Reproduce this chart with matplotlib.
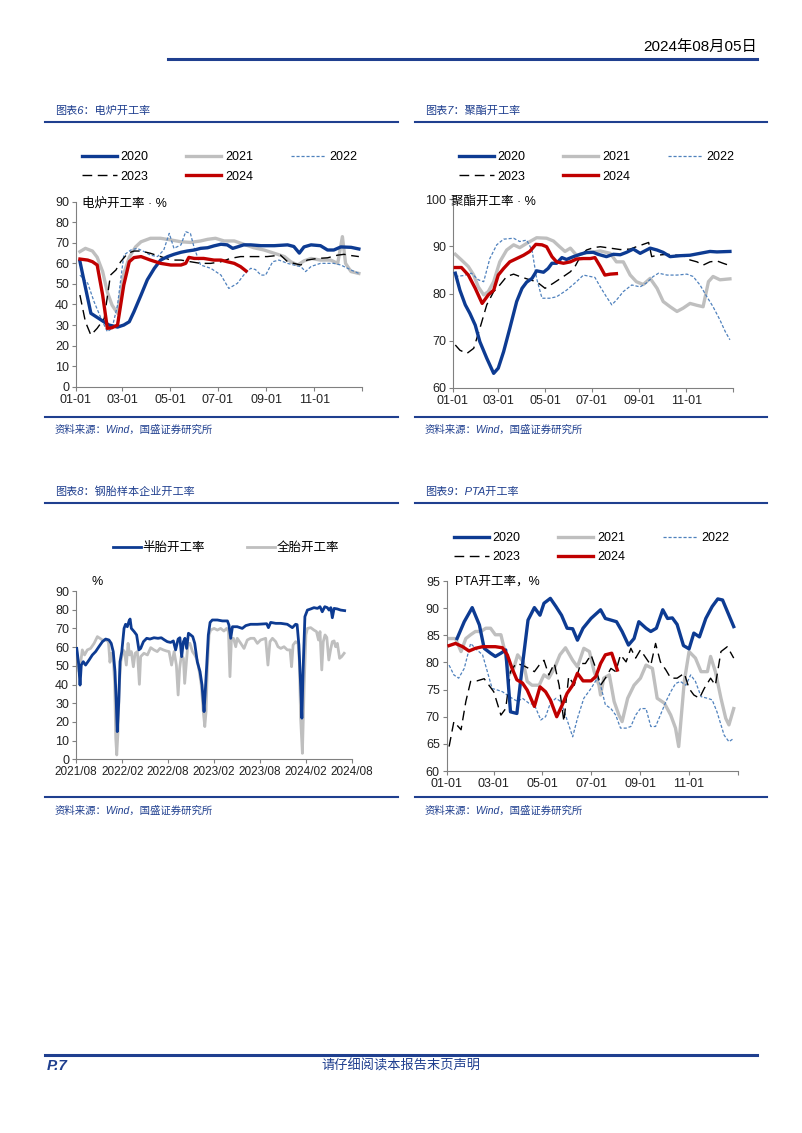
import numpy as np
import pandas as pd
import matplotlib.pyplot as plt
from matplotlib.lines import Line2D

plt.rcParams['font.family'] = ['Liberation Sans', 'Noto Sans CJK SC', 'DejaVu Sans']
plt.rcParams['axes.unicode_minus'] = False

# ---------------- data ----------------
years = ['2020', '2021', '2022', '2023', '2024']

# 电炉开工率 (day of year, %)
furnace_2020_day = [5, 19, 42, 53, 61, 68, 74, 83, 91, 100, 108, 117, 125, 134, 142, 151, 159, 168, 176, 185,
                    193, 200, 206, 214, 223, 236, 253, 270, 278, 285, 291, 300, 312, 321, 329, 338, 351, 361]
furnace_2020 = [61, 35.7, 30, 29, 30, 31.6, 36.5, 44.6, 52, 57.6, 61.6, 63.3, 64.4, 65.4, 66, 66.5, 67.3, 67.6, 68.5, 69.3,
                69, 67.3, 68, 69, 69, 68.6, 68.6, 69, 68.2, 65, 68, 69, 68.6, 66.5, 66.5, 68, 67.8, 67]
furnace_2021_day = [5, 12, 21, 27, 34, 40, 46, 53, 61, 68, 76, 83, 95, 108, 121, 134, 146, 159, 168, 178,
                    189, 202, 214, 227, 240, 253, 266, 274, 283, 291, 300, 312, 325, 334, 340, 344, 351, 361]
furnace_2021 = [65.7, 67.3, 66, 63, 56, 46, 39.7, 35.7, 55, 63, 68, 70.5, 72.2, 72.2, 71.4, 70.5, 70.2, 70.9, 71.7, 72.2,
                70.9, 70.9, 69.3, 67.6, 66.5, 64.9, 63.3, 60.8, 59.2, 61.2, 62.4, 61.6, 61.6, 60, 73, 60, 56, 55.1]
furnace_2022_day = [5, 15, 23, 32, 40, 46, 53, 61, 70, 78, 87, 95, 104, 112, 119, 125, 134, 140, 146, 151,
                    159, 172, 185, 195, 206, 214, 223, 229, 236, 242, 251, 259, 270, 278, 287, 293, 300, 312, 329, 338, 351, 361]
furnace_2022 = [54.3, 50.3, 41.4, 33.2, 26.8, 28.4, 39.7, 64, 66.5, 67.3, 65.7, 64, 63.3, 66.5, 74.6, 67.3, 69, 75.4, 74.6, 67.3,
                59.2, 57.6, 54.3, 47.8, 50.3, 54.3, 57.6, 57, 54.3, 54.3, 60.8, 61.6, 60, 59.2, 58.4, 56, 58.5, 60, 60, 59.2, 56.8, 55.1]
furnace_2023_day = [5, 12, 19, 27, 36, 44, 51, 57, 66, 74, 83, 95, 108, 121, 134, 146, 159, 172, 185, 197,
                    210, 227, 244, 261, 270, 278, 287, 295, 308, 321, 334, 342, 351, 361]
furnace_2023 = [44.6, 31.6, 25.1, 28.4, 33.2, 54.3, 56.8, 60.8, 64.9, 66, 66, 64.9, 63.3, 61.6, 61.6, 60.8, 60, 60, 60.8, 62.4,
                63.3, 63.3, 63.3, 64, 60.8, 60, 59.2, 61.6, 62.4, 62.7, 64, 64.4, 63.8, 63.3]
furnace_2024_day = [5, 15, 21, 27, 34, 40, 46, 53, 61, 68, 74, 83, 95, 108, 121, 134, 140, 144, 151, 163,
                    176, 185, 193, 202, 210, 217]
furnace_2024 = [62.1, 61.6, 60.8, 59.2, 44.6, 28.4, 28.7, 30, 49.5, 60.8, 62.8, 63.3, 61.6, 60, 59.2, 59.2, 60, 62.9, 62.4, 62.4,
                61.6, 61.6, 60.8, 60, 58.4, 56.3]

# 聚酯开工率
poly_2020_day = [3, 9, 16, 22, 29, 35, 44, 53, 59, 66, 74, 83, 90, 96, 103, 109, 118, 124, 129, 135,
                 142, 148, 157, 166, 174, 183, 189, 200, 209, 218, 226, 235, 244, 257, 266, 274, 283, 296, 309, 322, 335, 344, 361]
poly_2020 = [84.3, 80.7, 77.6, 75.8, 73.3, 69.8, 66.3, 63.1, 64.2, 67.7, 72.6, 78.3, 81.1, 82.4, 83.2, 84.8, 84.5, 85.3, 86.4, 86.4,
             87.6, 87.2, 87.8, 88.3, 88.7, 88.7, 88.3, 87.8, 88.3, 88.2, 88.7, 89.4, 88.5, 89.6, 89.2, 88.7, 87.8, 88, 88.1, 88.5,
             88.9, 88.8, 88.9]
poly_2021_day = [3, 11, 20, 27, 33, 40, 46, 53, 61, 70, 79, 87, 96, 109, 122, 131, 139, 146, 153, 161,
                 170, 179, 192, 205, 213, 222, 231, 239, 248, 257, 266, 274, 283, 292, 300, 309, 318, 326, 333, 339, 348, 361]
poly_2021 = [88.3, 87.1, 85.7, 83.9, 81.4, 79.7, 80.4, 82.5, 86.7, 89.2, 90.3, 89.7, 90.6, 91.8, 91.7, 91.1, 89.9, 88.9, 89.6, 88.1,
             88.5, 88.7, 89, 88.5, 86.7, 86.7, 83.9, 82.5, 81.9, 83.2, 81.1, 78.3, 77.2, 76.2, 76.9, 77.9, 77.5, 77.2, 82.5, 83.6,
             82.9, 83.1]
poly_2022_day = [3, 14, 24, 33, 40, 48, 57, 66, 79, 87, 96, 103, 109, 116, 126, 135, 148, 161, 170, 179,
                 185, 192, 200, 207, 213, 222, 233, 244, 252, 261, 268, 279, 292, 305, 313, 322, 331, 339, 348, 355, 361]
poly_2022 = [83.6, 83.8, 84.3, 82.9, 82.5, 87.4, 90.3, 91.5, 91.7, 91, 91.3, 89.2, 83.2, 79, 79, 79.3, 80.7, 82.5, 83.9, 83.6,
             83.4, 81.4, 79.3, 77.6, 78.6, 80.4, 81.8, 81.4, 82.2, 83.6, 84.3, 83.9, 83.9, 84.1, 83.6, 81.8, 79.3, 77.2, 74.4, 71.9,
             70.2]
poly_2023_day = [3, 9, 18, 27, 35, 44, 53, 61, 70, 79, 87, 100, 109, 120, 131, 144, 153, 159, 166, 174,
                 183, 192, 205, 218, 231, 239, 248, 255, 259, 266, 279, 292, 300, 309, 318, 326, 335, 344, 352, 361]
poly_2023 = [69.1, 68, 67.3, 68.4, 72.6, 77.6, 80.4, 81.8, 83.6, 84.1, 83.6, 82.9, 82.5, 81.1, 82.2, 83.6, 84.6, 85.7, 87.8, 89.2,
             89.7, 89.9, 89.6, 89.3, 89.4, 89.9, 90.4, 90.8, 87.8, 88.1, 88.3, 88.1, 88, 87.1, 86.7, 86, 86.7, 86.9, 86.4, 85.9]
poly_2024_day = [3, 11, 20, 29, 38, 46, 53, 59, 66, 74, 83, 92, 100, 108, 116, 122, 129, 135, 144, 153,
                 161, 170, 179, 185, 192, 198, 205, 213]
poly_2024 = [85.5, 85.5, 83.9, 81.1, 77.9, 79.7, 80.7, 83.9, 85.3, 86.7, 87.4, 88.1, 88.9, 90.4, 90.3, 89.9, 87.8, 86.7, 86.4, 86.7,
             87.3, 87.4, 87.4, 87.6, 85.7, 83.9, 84.1, 84.2]

# 钢胎样本企业开工率 (days since 2021-08-01, %)
semi_day = [3, 11, 16, 21, 29, 38, 52, 65, 78, 91, 105, 118, 131, 140, 148, 155, 160, 164, 170, 175,
            182, 191, 197, 204, 211, 215, 220, 231, 241, 250, 257, 268, 281, 294, 310, 326, 339, 352, 363, 376,
            387, 396, 406, 413, 420, 427, 433, 440, 447, 456, 464, 472, 482, 493, 501, 509, 513, 519, 526, 533,
            542, 562, 582, 602, 608, 615, 622, 641, 661, 675, 694, 721, 758, 765, 774, 794, 814, 840, 860, 873,
            879, 886, 893, 898, 903, 910, 920, 933, 946, 960, 970, 979, 989, 999, 1006, 1013, 1019, 1026, 1039, 1052,
            1068]
semi_rate = [59.3, 50.4, 39.7, 50.4, 52.2, 50.4, 53.1, 55.8, 57.6, 60.2, 62.9, 64.3, 63.8, 62, 57.6, 46.9, 30.8, 14.8, 30.8, 52.2,
             57.6, 70, 72.2, 70.9, 74, 75, 70, 68.3, 66.5, 58.5, 59.3, 62.9, 64.7, 64.3, 65, 64.7, 65, 63.8, 62.9, 62.5,
             63.3, 58.5, 64.3, 65, 54.9, 62.9, 64.7, 59.3, 67.4, 66.5, 65.6, 62, 52.2, 46.9, 39.7, 25.5, 34.4, 48.6, 66.5, 73.2,
             74.5, 74.5, 74, 74, 71.8, 64.7, 70.9, 70.9, 70, 71.5, 72.2, 72.2, 72.5, 70.4, 73.2, 72.7, 72.7, 72.2, 70.4, 72.2,
             72, 61.1, 39.7, 22, 48.6, 76.3, 79.8, 80.4, 81.1, 80.7, 81.6, 78.9, 81.6, 81.1, 79.8, 81.1, 75.7, 80.7, 80.4, 79.8,
             79.5]
full_day = [3, 12, 19, 25, 34, 45, 58, 72, 85, 95, 105, 118, 129, 135, 140, 148, 154, 158, 162, 167,
            172, 178, 187, 193, 200, 207, 213, 220, 228, 235, 244, 252, 257, 270, 284, 297, 310, 323, 334, 347,
            360, 370, 380, 390, 399, 406, 412, 419, 427, 432, 439, 445, 453, 463, 472, 482, 490, 498, 506, 512,
            517, 522, 529, 535, 549, 562, 575, 588, 599, 606, 612, 618, 626, 635, 641, 655, 668, 681, 694, 708,
            721, 734, 754, 763, 771, 781, 794, 803, 814, 827, 840, 851, 857, 863, 873, 883, 888, 893, 900, 907,
            914, 920, 933, 946, 956, 964, 970, 977, 983, 990, 997, 1005, 1013, 1019, 1026, 1032, 1039, 1048, 1056, 1066]
full_rate = [57.6, 46.9, 52.2, 58.5, 55.8, 58.5, 59.3, 62, 65.6, 64.7, 63.8, 63.8, 62.9, 51.9, 56.7, 54, 39.7, 11.2, 2.3, 14.8,
             39.7, 52.2, 58.5, 57.6, 50.4, 62, 55.8, 57.6, 49.5, 56.7, 57.6, 40.1, 54.9, 56.7, 55.8, 59.7, 58.5, 57.6, 59.3, 58.5,
             57.9, 57.6, 50.4, 57.6, 50.4, 34.4, 48.6, 55.8, 54, 40.6, 52.2, 62, 62, 57.6, 55.8, 53.1, 46.9, 39.7, 25.5, 17.5,
             25.5, 48.6, 66.5, 69.1, 70, 69.1, 70, 68.6, 70, 68.3, 44.2, 64.7, 64.7, 60.2, 64.7, 62, 59.3, 63.8, 64.7, 64.7,
             62, 63.8, 64.7, 50.4, 62.9, 64.7, 62.9, 60.2, 59.3, 60.2, 58.5, 58.5, 49.5, 61.1, 62.9, 62, 52.2, 21.9, 3.2, 39.7,
             66.5, 70, 70.4, 69.1, 68.3, 63.8, 68.3, 47.8, 62.9, 66.5, 65.2, 53.1, 59.3, 62.9, 63.3, 60.2, 62, 54, 54.9, 56.7]

# PTA开工率
pta_2020_day = [13, 22, 32, 41, 47, 55, 61, 68, 74, 80, 88, 95, 102, 110, 117, 122, 130, 137, 144, 151,
                158, 164, 171, 181, 193, 199, 206, 213, 220, 228, 235, 241, 250, 256, 263, 271, 277, 283, 289, 297,
                304, 310, 317, 325, 333, 340, 346, 352, 360]
pta_2020 = [84.4, 87.5, 90.1, 86.9, 82.6, 81.7, 81.1, 81.7, 82.3, 70.9, 70.6, 79.5, 87.8, 90.1, 88.7, 90.9, 91.8, 90.3, 88.7, 86.3,
            86.2, 84.1, 86.3, 88.1, 89.7, 88.1, 87.8, 87.5, 85.7, 83.2, 84.4, 87.5, 86.3, 85.7, 86.3, 89.7, 88.1, 88.2, 87, 83.1,
            82.5, 85.4, 84.7, 88.1, 90.3, 91.7, 91.5, 89.4, 86.6]
pta_2021_day = [3, 11, 18, 24, 30, 36, 43, 49, 55, 61, 68, 74, 78, 84, 89, 96, 101, 107, 116, 122,
                128, 135, 142, 149, 158, 164, 172, 179, 185, 191, 193, 197, 204, 210, 216, 220, 227, 235, 243, 250,
                258, 264, 273, 281, 287, 291, 298, 304, 312, 319, 327, 331, 337, 344, 350, 354, 360]
pta_2021 = [84.4, 84.4, 82, 84.4, 85.1, 85.7, 85.7, 86.3, 86.3, 85.1, 85.1, 81.4, 77.7, 78.9, 81.4, 80.1, 76.5, 75.8, 75.8, 77.7,
            77.1, 78.9, 81.4, 82.7, 80.4, 79.2, 82.6, 82, 78.3, 75.8, 74, 77.1, 77.7, 72.8, 70.3, 69.1, 73.4, 75.8, 77.1, 79.5,
            78.9, 73.4, 72.5, 70.3, 67.9, 64.5, 76.5, 82, 80.8, 78.3, 78.3, 81.1, 78.3, 73.4, 69.7, 68.5, 71.5]
pta_2022_day = [3, 9, 15, 22, 30, 38, 45, 51, 57, 64, 70, 76, 82, 89, 95, 103, 110, 118, 124, 130,
                137, 143, 149, 158, 164, 172, 181, 189, 193, 199, 206, 212, 218, 225, 231, 237, 243, 250, 256, 262,
                268, 275, 281, 287, 293, 300, 306, 312, 319, 327, 333, 339, 348, 354, 360]
pta_2022 = [79.5, 77.7, 77.1, 78.9, 83.5, 82.3, 81.4, 78.3, 75.2, 74.9, 74.6, 74, 73.4, 72.8, 73.4, 72.5, 72.2, 69.4, 70, 72.5,
            73.4, 72.8, 70.3, 66.3, 69.7, 73.4, 75.2, 77.1, 75.8, 72.2, 71.5, 70.3, 67.9, 67.9, 68.2, 70.3, 71.5, 71.5, 68.2, 68.2,
            70.3, 72.8, 74.6, 76.1, 76.5, 75.8, 77.7, 76.5, 73.7, 73.4, 73.1, 70.9, 66.6, 65.4, 66]
pta_2023_day = [3, 9, 18, 24, 30, 38, 47, 53, 59, 68, 74, 80, 87, 95, 103, 110, 116, 122, 128, 135,
                141, 147, 153, 160, 168, 174, 181, 187, 193, 199, 206, 212, 218, 225, 231, 237, 243, 250, 256, 262,
                268, 275, 281, 289, 298, 304, 310, 317, 323, 331, 337, 344, 352, 360]
pta_2023 = [64.5, 69.1, 67.6, 72.8, 76.5, 76.6, 77, 75.8, 74.6, 70.3, 71.5, 78.3, 79.8, 79.5, 78.9, 78.3, 79.5, 80.4, 77.7, 79.8,
            75.8, 69.1, 77.4, 75.8, 79.8, 79.8, 81.4, 78.9, 75.8, 77.1, 78.9, 78.3, 81.4, 80.1, 82.6, 80.8, 82.3, 80.8, 79.5, 83.5,
            80.1, 78.6, 77.1, 77.1, 78, 75.2, 74, 73.4, 75.2, 77.1, 75.8, 82, 82.9, 80.8]
pta_2024_day = [3, 11, 20, 28, 36, 45, 53, 61, 70, 76, 82, 88, 95, 101, 110, 117, 124, 130, 138, 145,
                151, 158, 164, 171, 181, 187, 193, 199, 207, 214]
pta_2024 = [83.1, 83.5, 82.9, 82.1, 82.6, 82.9, 82.9, 82.9, 82.7, 81.4, 78.9, 76.8, 76.2, 74.9, 71.9, 75.5, 74.6, 73.1, 70, 72.2,
            74.3, 75.8, 78, 76.6, 76.6, 77.4, 79.8, 81.4, 81.7, 78.6]

month_ticks = [0, 59, 120, 181, 243, 304, 365]
month_labels = ['01-01', '03-01', '05-01', '07-01', '09-01', '11-01', '']

# ---------------- style ----------------
BLUE = '#0d3b92'
GRAY = '#bfbfbf'
RED = '#c00000'
LIGHT = '#4f81bd'
HEAD = '#1f3f8f'
SPINE = '#808080'

styles = {
    '2020': dict(color=BLUE, lw=2.4, ls='-', zorder=4),
    '2021': dict(color=GRAY, lw=2.4, ls='-', zorder=2),
    '2022': dict(color=LIGHT, lw=0.9, ls=(0, (2.5, 1.5)), zorder=3),
    '2023': dict(color='black', lw=1.0, ls=(0, (7, 4)), zorder=3),
    '2024': dict(color=RED, lw=2.4, ls='-', zorder=5),
}

W, H = 802, 1133
fig = plt.figure(figsize=(W / 100, H / 100), dpi=100)


def fx(px):
    return px / W


def fy(py):
    return 1 - py / H


def hline(x0, x1, y, lw=1.5, color=HEAD):
    fig.add_artist(Line2D([fx(x0), fx(x1)], [fy(y), fy(y)], transform=fig.transFigure, color=color, lw=lw))


def add_axes(l, r, t, b):
    return fig.add_axes([fx(l), fy(b), fx(r) - fx(l), fy(t) - fy(b)])


def style_axes(ax):
    for s in ['top', 'right']:
        ax.spines[s].set_visible(False)
    for s in ['left', 'bottom']:
        ax.spines[s].set_color(SPINE)
        ax.spines[s].set_linewidth(0.8)
    ax.tick_params(direction='out', length=3, width=0.8, color=SPINE, labelsize=9, pad=2, labelcolor='#222222')


def year_panel(ax, series, ylim, yticks, leg_x, leg_y):
    handles = {}
    for yr, (d, v) in zip(years, series):
        st = styles[yr]
        h, = ax.plot(d, v, color=st['color'], lw=st['lw'], ls=st['ls'], zorder=st['zorder'], label=yr)
        handles[yr] = h
    ax.set_xlim(0, 365)
    ax.set_ylim(*ylim)
    ax.set_yticks(yticks)
    ax.set_xticks(month_ticks)
    ax.set_xticklabels(month_labels)
    style_axes(ax)
    order = ['2020', '2023', '2021', '2024', '2022']
    ax.legend([handles[k] for k in order], order, ncol=3, loc='upper left',
              bbox_to_anchor=(fx(leg_x), fy(leg_y)), bbox_transform=fig.transFigure,
              frameon=False, fontsize=9, handlelength=2.8, handletextpad=0.3,
              columnspacing=3.0, borderpad=0, borderaxespad=0, labelspacing=0.6)


# header / footer
fig.text(fx(757), fy(47), '2024年08月05日', ha='right', va='center', fontsize=11, color='black')
hline(168, 757, 59, lw=2.2)
hline(45, 757, 1055, lw=2.2)
fig.text(fx(47), fy(1066), 'P.7', ha='left', va='center', fontsize=11, fontweight='bold', style='italic', color=HEAD)
fig.text(fx(401), fy(1066), '请仔细阅读本报告末页声明', ha='center', va='center', fontsize=9.5, color=HEAD, style='italic')

# panel titles and separators
titles = [(55, 111, '图表6：电炉开工率'), (425, 111, '图表7：聚酯开工率'),
          (55, 492, '图表8：钢胎样本企业开工率'), (425, 492, '图表9：PTA开工率')]
for x, y, t in titles:
    fig.text(fx(x), fy(y), t, ha='left', va='center', fontsize=8, color=HEAD, style='italic')
for y in [122, 417, 503, 797]:
    hline(45, 398, y)
    hline(415, 767, y)
for x, y in [(55, 430), (425, 430), (55, 811), (425, 811)]:
    fig.text(fx(x), fy(y), '资料来源：Wind，国盛证券研究所', ha='left', va='center', fontsize=7.5,
             color=HEAD, style='italic')

# chart 1: 电炉开工率
ax1 = add_axes(76, 362, 201.7, 386.7)
year_panel(ax1, [(furnace_2020_day, furnace_2020), (furnace_2021_day, furnace_2021),
                 (furnace_2022_day, furnace_2022), (furnace_2023_day, furnace_2023),
                 (furnace_2024_day, furnace_2024)],
           (0, 90), range(0, 91, 10), 82, 151)
ax1.text(0.021, 0.993, '电炉开工率 · %', transform=ax1.transAxes, ha='left', va='center', fontsize=9)

# chart 2: 聚酯开工率
ax2 = add_axes(453, 733, 199, 388)
year_panel(ax2, [(poly_2020_day, poly_2020), (poly_2021_day, poly_2021),
                 (poly_2022_day, poly_2022), (poly_2023_day, poly_2023),
                 (poly_2024_day, poly_2024)],
           (60, 100), range(60, 101, 10), 459, 151)
ax2.text(-0.007, 0.984, '聚酯开工率 · %', transform=ax2.transAxes, ha='left', va='center', fontsize=9)

# chart 3: 钢胎
start = pd.Timestamp('2021-08-01')
semi_dates = start + pd.to_timedelta(semi_day, unit='D')
full_dates = start + pd.to_timedelta(full_day, unit='D')
ax3 = add_axes(76, 351.7, 591, 759.3)
h_semi, = ax3.plot(semi_dates, semi_rate, color=BLUE, lw=2.0, zorder=3)
h_full, = ax3.plot(full_dates, full_rate, color=GRAY, lw=2.0, zorder=2)
tire_ticks = pd.to_datetime(['2021-08-01', '2022-02-01', '2022-08-01', '2023-02-01',
                             '2023-08-01', '2024-02-01', '2024-08-01'])
ax3.set_xticks(tire_ticks)
ax3.set_xticklabels([d.strftime('%Y/%m') for d in tire_ticks])
ax3.set_xlim(tire_ticks[0], tire_ticks[-1])
ax3.set_ylim(0, 90)
ax3.set_yticks(range(0, 91, 10))
style_axes(ax3)
ax3.tick_params(axis='x', labelsize=8.5)
ax3.legend([h_semi, h_full], ['半胎开工率', '全胎开工率'], ncol=2, loc='upper left',
           bbox_to_anchor=(fx(113), fy(542)), bbox_transform=fig.transFigure,
           frameon=False, fontsize=9, handlelength=2.2, handletextpad=0.15,
           columnspacing=3.4, borderpad=0, borderaxespad=0)
ax3.text(0.058, 1.053, '%', transform=ax3.transAxes, ha='left', va='center', fontsize=9)

# chart 4: PTA开工率
ax4 = add_axes(446.7, 737.7, 581, 771)
year_panel(ax4, [(pta_2020_day, pta_2020), (pta_2021_day, pta_2021),
                 (pta_2022_day, pta_2022), (pta_2023_day, pta_2023),
                 (pta_2024_day, pta_2024)],
           (60, 95), range(60, 96, 5), 454, 532)
ax4.text(0.029, 0.995, 'PTA开工率，%', transform=ax4.transAxes, ha='left', va='center', fontsize=9)

fig.savefig('out.png', dpi=100)
